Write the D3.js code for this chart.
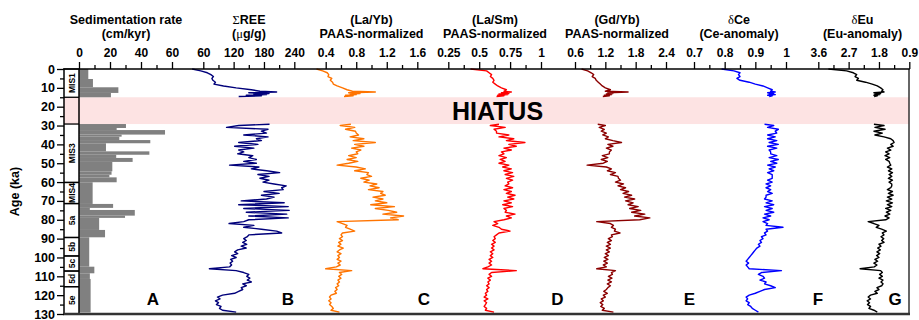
<!DOCTYPE html>
<html>
<head>
<meta charset="utf-8">
<script src="https://cdn.jsdelivr.net/npm/d3@7/dist/d3.min.js"></script>
<style>
body { margin: 0; background: #fff; }
svg text { font-family: "Liberation Sans", Arial, sans-serif; font-weight: bold; fill: #000; }
</style>
</head>
<body>
<div id="chart"></div>
<script>
// ---- data ----
// sedimentation rate steps (age top, age base, rate cm/kyr)
const sedTop  = [0, 5.3, 9.7, 12.7, 29.2, 31.3, 32.4, 34.8, 35.9, 37.7, 39.4, 43.7, 45.5, 47.2, 49.3, 54.3, 56.1, 57.5, 60.1, 71.6, 73.7, 74.8, 77.8, 79.0, 85.4, 89.3, 104.9, 108.4, 111.4];
const sedBase = [5.3, 9.7, 12.7, 15, 31.3, 32.4, 34.8, 35.9, 37.7, 39.4, 43.7, 45.5, 47.2, 49.3, 54.3, 56.1, 57.5, 60.1, 71.6, 73.7, 74.8, 77.8, 79.0, 85.4, 89.3, 104.9, 108.4, 111.4, 129.2];
const sedRate = [6, 9, 25.4, 20.6, 30.3, 24.3, 55.5, 27.5, 26, 46, 17.4, 45.4, 24, 34.6, 21.5, 21, 19.6, 24.3, 8.8, 22, 7, 36, 29.7, 13, 16.8, 6.6, 9.9, 7, 7.5];

// sample ages above the hiatus
const ageUpper = [0, 1, 2, 3, 4, 5, 6, 7, 8, 9, 10, 11, 11.8, 12.2, 12.6, 13, 13.3, 13.6, 13.9, 14.2, 14.6];
// sample ages below the hiatus
const ageLower = [29.3, 30, 31, 32, 33, 34, 35, 36, 37, 38,
  39, 40, 41, 42, 43, 44, 45, 46, 47, 48,
  49, 50, 51, 52, 53, 54, 55, 56, 57, 58,
  59, 60, 61, 62, 63, 64, 65, 66, 67, 68,
  69, 70, 71, 72, 73, 74, 75, 76, 77, 78,
  79, 80, 81, 82, 83, 84, 85, 86, 87, 88,
  89, 90, 91, 92, 93, 94, 95, 96, 97, 98,
  99, 100, 101, 102, 103, 104, 105, 106, 107, 108,
  109, 110, 111, 112, 113, 114, 115, 116, 117, 118,
  119, 120, 121, 122, 123, 124, 125, 126, 127, 128, 129];

const reeUpper = [38, 55, 68, 75, 80, 77, 79, 84, 81, 100, 125, 155, 172, 205, 150, 190, 160, 185, 145, 175, 130];
const reeLower = [191, 130, 106, 188, 175, 185, 140, 188, 165, 175,
  130, 168, 122, 160, 130, 140, 128, 158, 150, 165,
  140, 165, 112, 170, 155, 185, 211, 168, 190, 172,
  190, 178, 200, 224, 215, 218, 180, 210, 175, 200,
  185, 135, 220, 130, 228, 140, 230, 145, 225, 150,
  228, 150, 140, 111, 160, 140, 175, 205, 215, 150,
  147, 140, 145, 138, 146, 135, 145, 128, 122, 128,
  116, 125, 114, 118, 113, 116, 112, 72, 125, 140,
  150, 146, 152, 147, 155, 138, 145, 135, 138, 130,
  122, 98, 88, 93, 84, 90, 86, 95, 92, 98, 125];

const laYbUpper = [0.28, 0.36, 0.42, 0.44, 0.43, 0.48, 0.46, 0.49, 0.50, 0.55, 0.62, 0.68, 0.75, 1.05, 0.70, 0.85, 0.72, 0.80, 0.66, 0.76, 0.64];
const laYbLower = [0.73, 0.59, 0.78, 0.66, 0.79, 0.80, 0.83, 0.72, 0.90, 0.76,
  1.05, 0.78, 0.90, 0.74, 0.86, 0.80, 0.82, 0.70, 0.80, 0.68,
  0.82, 0.70, 0.55, 0.80, 0.92, 0.78, 0.96, 0.94, 1.00, 0.86,
  0.97, 0.90, 1.07, 0.98, 1.10, 0.96, 1.15, 1.12, 1.18, 1.02,
  1.15, 1.05, 1.20, 0.99, 1.30, 1.05, 1.22, 1.33, 1.15, 1.42,
  1.25, 1.35, 0.55, 0.62, 0.68, 0.66, 0.72, 0.78, 0.62, 0.60,
  0.62, 0.58, 0.62, 0.57, 0.60, 0.56, 0.63, 0.58, 0.55, 0.60,
  0.56, 0.58, 0.55, 0.60, 0.56, 0.59, 0.54, 0.40, 0.74, 0.58,
  0.61, 0.57, 0.60, 0.56, 0.58, 0.55, 0.57, 0.53, 0.55, 0.52,
  0.54, 0.47, 0.45, 0.47, 0.44, 0.47, 0.45, 0.48, 0.50, 0.47, 0.58];

const laSmUpper = [0.43, 0.56, 0.58, 0.60, 0.59, 0.61, 0.62, 0.61, 0.63, 0.65, 0.68, 0.72, 0.70, 0.76, 0.68, 0.74, 0.66, 0.73, 0.65, 0.70, 0.64];
const laSmLower = [0.66, 0.59, 0.71, 0.62, 0.64, 0.64, 0.74, 0.66, 0.78, 0.72,
  0.87, 0.74, 0.80, 0.70, 0.76, 0.68, 0.70, 0.66, 0.72, 0.67,
  0.71, 0.66, 0.74, 0.69, 0.76, 0.70, 0.77, 0.71, 0.78, 0.72,
  0.77, 0.73, 0.74, 0.71, 0.77, 0.70, 0.76, 0.72, 0.79, 0.73,
  0.78, 0.70, 0.76, 0.69, 0.77, 0.70, 0.72, 0.71, 0.79, 0.72,
  0.76, 0.70, 0.62, 0.65, 0.61, 0.66, 0.68, 0.75, 0.66, 0.64,
  0.62, 0.63, 0.61, 0.63, 0.60, 0.62, 0.60, 0.62, 0.59, 0.61,
  0.59, 0.61, 0.58, 0.60, 0.58, 0.60, 0.57, 0.53, 0.80, 0.60,
  0.58, 0.60, 0.57, 0.59, 0.57, 0.58, 0.56, 0.58, 0.56, 0.57,
  0.55, 0.56, 0.54, 0.57, 0.54, 0.56, 0.55, 0.54, 0.56, 0.55, 0.62];

const gdYbUpper = [0.73, 0.85, 0.92, 0.97, 0.94, 1.00, 1.02, 1.06, 1.10, 1.14, 1.20, 1.30, 1.20, 1.65, 1.25, 1.35, 1.22, 1.32, 1.18, 1.28, 1.15];
const gdYbLower = [1.05, 1.20, 1.08, 1.18, 1.12, 1.22, 1.15, 1.26, 1.20, 1.35,
  1.52, 1.25, 1.35, 1.22, 1.32, 1.28, 1.28, 1.14, 1.25, 1.12,
  1.24, 1.16, 0.84, 1.22, 1.32, 1.24, 1.40, 1.30, 1.45, 1.46,
  1.50, 1.40, 1.56, 1.45, 1.60, 1.50, 1.66, 1.55, 1.72, 1.58,
  1.78, 1.60, 1.75, 1.65, 1.85, 1.68, 1.90, 1.72, 1.98, 1.78,
  2.08, 1.88, 1.03, 1.30, 1.36, 1.32, 1.40, 1.38, 1.49, 1.32,
  1.34, 1.26, 1.32, 1.24, 1.30, 1.22, 1.30, 1.22, 1.28, 1.20,
  1.26, 1.18, 1.25, 1.17, 1.24, 1.16, 1.22, 1.03, 1.40, 1.32,
  1.34, 1.26, 1.33, 1.25, 1.32, 1.24, 1.30, 1.25, 1.22, 1.17,
  1.24, 1.16, 1.20, 1.12, 1.16, 1.10, 1.15, 1.11, 1.18, 1.14, 1.36];

const ceUpper = [0.79, 0.83, 0.85, 0.845, 0.85, 0.84, 0.85, 0.88, 0.90, 0.925, 0.94, 0.955, 0.95, 0.965, 0.94, 0.96, 0.945, 0.965, 0.94, 0.955, 0.945];
const ceLower = [0.93, 0.96, 0.94, 0.975, 0.965, 0.97, 0.94, 0.965, 0.94, 0.97,
  0.945, 0.975, 0.94, 0.97, 0.945, 0.95, 0.95, 0.97, 0.945, 0.975,
  0.95, 0.97, 0.94, 0.965, 0.945, 0.96, 0.94, 0.955, 0.955, 0.955,
  0.94, 0.955, 0.935, 0.95, 0.935, 0.95, 0.94, 0.955, 0.935, 0.935,
  0.93, 0.955, 0.935, 0.96, 0.93, 0.955, 0.935, 0.96, 0.93, 0.95,
  0.925, 0.945, 0.925, 0.94, 0.935, 0.99, 0.935, 0.94, 0.93, 0.935,
  0.92, 0.925, 0.915, 0.92, 0.91, 0.915, 0.905, 0.90, 0.895, 0.89,
  0.885, 0.88, 0.875, 0.87, 0.878, 0.87, 0.875, 0.88, 0.985, 0.92,
  0.91, 0.925, 0.93, 0.915, 0.935, 0.93, 0.95, 0.965, 0.93, 0.915,
  0.90, 0.88, 0.87, 0.875, 0.87, 0.88, 0.875, 0.885, 0.89, 0.90, 0.91];

const euUpper = [3.30, 2.76, 2.56, 2.46, 2.51, 2.41, 2.46, 2.20, 2.00, 1.85, 1.75, 1.68, 1.72, 1.65, 1.95, 1.75, 1.92, 1.78, 1.95, 1.85, 1.95];
const euLower = [1.95, 1.65, 1.92, 1.62, 1.95, 1.70, 1.92, 1.65, 1.45, 1.38,
  1.35, 1.45, 1.38, 1.55, 1.45, 1.60, 1.50, 1.62, 1.48, 1.60,
  1.50, 1.48, 1.45, 1.55, 1.42, 1.52, 1.40, 1.50, 1.42, 1.52,
  1.40, 1.50, 1.42, 1.42, 1.45, 1.55, 1.40, 1.52, 1.38, 1.55,
  1.42, 1.58, 1.40, 1.55, 1.42, 1.60, 1.45, 1.58, 1.48, 1.62,
  1.50, 1.60, 2.12, 1.95, 1.80, 1.88, 1.72, 1.58, 1.70, 1.65,
  1.74, 1.66, 1.72, 1.65, 1.80, 1.74, 1.84, 1.76, 1.86, 1.78,
  1.87, 1.80, 1.92, 1.84, 1.95, 1.86, 1.94, 2.36, 1.75, 1.70,
  1.78, 1.70, 1.80, 1.68, 1.74, 1.68, 1.72, 1.86, 1.80, 1.92,
  1.85, 2.05, 2.12, 2.05, 2.15, 2.08, 2.14, 2.05, 2.10, 1.95, 1.85];

// hiatus and marine isotope stages
const hiatus = [15, 29.2];
const misNames = ["MIS1", "MIS3", "MIS4", "5a", "5b", "5c", "5d", "5e"];
const misTop   = [0, 29.2, 60.2, 71.4, 89.4, 99.2, 107.2, 115.5];
const misBase  = [15, 60.2, 71.4, 89.4, 99.2, 107.2, 115.5, 130];

// tick labels
const ageTicks = [0, 10, 20, 30, 40, 50, 60, 70, 80, 90, 100, 110, 120, 130];
const ageMinor = [5, 15, 25, 35, 45, 55, 65, 75, 85, 95, 105, 115, 125];
const sedTicks = [0, 20, 40, 60], sedMinor = [10, 30, 50];
const reeTicks = [60, 120, 180, 240], reeMinor = [90, 150, 210];
const laYbTicks = [0.4, 0.8, 1.2, 1.6], laYbMinor = [0.6, 1.0, 1.4];
const laSmTicks = [0.25, 0.5, 0.75, 1], laSmMinor = [0.375, 0.625, 0.875];
const gdYbTicks = [0.6, 1.2, 1.8, 2.4], gdYbMinor = [0.9, 1.5, 2.1];
const ceTicks = [0.7, 0.8, 0.9, 1], ceMinor = [0.75, 0.85, 0.95];
const euTicks = [3.6, 2.7, 1.8, 0.9], euMinor = [3.15, 2.25, 1.35];

// ---- layout ----
const width = 919, height = 320;
const plotTop = 69, plotBottom = 314;
const misLeft = 64, misRight = 79, plotRight = 909;

const panels = [
  { id: "A", title: ["Sedimentation rate", "(cm/kyr)"], domain: [0, 60], range: [79, 172], ticks: sedTicks, minor: sedMinor, titleX: 126, letterX: 153 },
  { id: "B", title: ["\u03a3REE", "(\u03bcg/g)"], domain: [60, 240], range: [203.3, 294.3], ticks: reeTicks, minor: reeMinor, titleX: 249, letterX: 288, upper: reeUpper, lower: reeLower, color: "#00007a" },
  { id: "C", title: ["(La/Yb)", "PAAS-normalized"], domain: [0.4, 1.6], range: [325.7, 417.3], ticks: laYbTicks, minor: laYbMinor, titleX: 371.5, letterX: 424, upper: laYbUpper, lower: laYbLower, color: "#ff7400" },
  { id: "D", title: ["(La/Sm)", "PAAS-normalized"], domain: [0.25, 1], range: [448.3, 541], ticks: laSmTicks, minor: laSmMinor, titleX: 495, letterX: 557.5, upper: laSmUpper, lower: laSmLower, color: "#ff0000" },
  { id: "E", title: ["(Gd/Yb)", "PAAS-normalized"], domain: [0.6, 2.4], range: [575, 666], ticks: gdYbTicks, minor: gdYbMinor, titleX: 617, letterX: 689.5, upper: gdYbUpper, lower: gdYbLower, color: "#8b0000" },
  { id: "F", title: ["\u03b4Ce", "(Ce-anomaly)"], domain: [0.7, 1], range: [694, 786], ticks: ceTicks, minor: ceMinor, titleX: 739, letterX: 818, upper: ceUpper, lower: ceLower, color: "#0000ff" },
  { id: "G", title: ["\u03b4Eu", "(Eu-anomaly)"], domain: [3.6, 0.9], range: [818.3, 909.3], ticks: euTicks, minor: euMinor, titleX: 862.5, letterX: 895, upper: euUpper, lower: euLower, color: "#000000" }
];

const svg = d3.select("#chart")
  .append("svg")
  .attr("width", width)
  .attr("height", height);

const y = d3.scaleLinear().domain([0, 130]).range([plotTop, plotBottom]);
panels.forEach(p => { p.x = d3.scaleLinear().domain(p.domain).range(p.range); });

// greek letters drawn in a serif face, like the original symbol font
function richText(sel, str) {
  str.split(/([\u0370-\u03ff])/).filter(s => s.length).forEach(part => {
    const t = sel.append("tspan").text(part);
    if (/[\u0370-\u03ff]/.test(part)) {
      t.style("font-family", "'Liberation Serif', serif").style("font-weight", "normal");
    }
  });
}

// tidy an axis group: drop the domain path, style ticks and labels
function styleAxis(g, fontSize) {
  g.selectAll(".domain").remove();
  g.selectAll("line").attr("stroke", "#000").attr("stroke-width", 1.3);
  g.selectAll("text")
    .attr("fill", "#000")
    .style("font-size", fontSize)
    .style("font-family", "'Liberation Sans', Arial, sans-serif")
    .style("font-weight", "bold");
}

// hiatus band
svg.append("rect")
  .attr("x", misLeft)
  .attr("y", y(hiatus[0]))
  .attr("width", plotRight - misLeft)
  .attr("height", y(hiatus[1]) - y(hiatus[0]))
  .attr("fill", "#fde3e3");

// sedimentation rate bars
const xSed = panels[0].x;
svg.append("g")
  .selectAll("rect")
  .data(d3.range(sedRate.length))
  .join("rect")
  .attr("x", xSed(0))
  .attr("y", i => y(sedTop[i]))
  .attr("width", i => xSed(sedRate[i]) - xSed(0))
  .attr("height", i => y(sedBase[i]) - y(sedTop[i]))
  .attr("fill", "#808080");

// geochemistry profiles, one path above and one below the hiatus
panels.filter(p => p.upper).forEach(p => {
  const line = d3.line()
    .x(d => p.x(d[1]))
    .y(d => y(d[0]));
  [d3.zip(ageUpper, p.upper), d3.zip(ageLower, p.lower)].forEach(seg => {
    svg.append("path")
      .datum(seg)
      .attr("d", line)
      .attr("fill", "none")
      .attr("stroke", p.color)
      .attr("stroke-width", 1.4)
      .attr("stroke-linejoin", "round");
  });
});

// MIS column
const mis = svg.append("g");
mis.selectAll("line")
  .data(misTop.concat(misBase))
  .join("line")
  .attr("x1", misLeft).attr("x2", misRight)
  .attr("y1", d => y(d)).attr("y2", d => y(d))
  .attr("stroke", "#000").attr("stroke-width", 1.3);
mis.selectAll("text")
  .data(misNames)
  .join("text")
  .attr("transform", (d, i) => `translate(${(misLeft + misRight) / 2 + 3},${y((misTop[i] + misBase[i]) / 2)}) rotate(-90)`)
  .attr("text-anchor", "middle")
  .style("font-size", "8.5px")
  .text(d => d);
[misLeft, misRight].forEach(xx => {
  svg.append("line")
    .attr("x1", xx).attr("x2", xx)
    .attr("y1", plotTop).attr("y2", plotBottom)
    .attr("stroke", "#000").attr("stroke-width", 1.5);
});

// frame: right and bottom
svg.append("line")
  .attr("x1", plotRight).attr("x2", plotRight)
  .attr("y1", plotTop).attr("y2", plotBottom)
  .attr("stroke", "#333").attr("stroke-width", 1.5);
svg.append("line")
  .attr("x1", misLeft - 1).attr("x2", plotRight + 1)
  .attr("y1", plotBottom).attr("y2", plotBottom)
  .attr("stroke", "#333").attr("stroke-width", 2.5);

// left age axis (major and minor ticks in separate groups)
svg.append("g")
  .attr("transform", `translate(${misLeft},0)`)
  .call(d3.axisLeft(y).tickValues(ageTicks).tickSize(7).tickPadding(2).tickFormat(d => d))
  .call(g => styleAxis(g, "12.5px"));
svg.append("g")
  .attr("transform", `translate(${misLeft},0)`)
  .call(d3.axisLeft(y).tickValues(ageMinor).tickSize(4).tickFormat(""))
  .call(g => styleAxis(g, "12.5px"));

svg.append("text")
  .attr("transform", `translate(19,${(plotTop + plotBottom) / 2}) rotate(-90)`)
  .attr("text-anchor", "middle")
  .style("font-size", "12.5px")
  .text("Age (ka)");

// top axis line shared by all panels
svg.append("line")
  .attr("x1", misLeft - 1).attr("x2", plotRight + 0.75)
  .attr("y1", plotTop).attr("y2", plotTop)
  .attr("stroke", "#000").attr("stroke-width", 1.5);

// panel axes, titles and letters
panels.forEach(p => {
  svg.append("g")
    .attr("transform", `translate(0,${plotTop})`)
    .call(d3.axisTop(p.x).tickValues(p.ticks).tickSize(7).tickPadding(5).tickFormat(d => String(d)))
    .call(g => styleAxis(g, "12px"));
  svg.append("g")
    .attr("transform", `translate(0,${plotTop})`)
    .call(d3.axisTop(p.x).tickValues(p.minor).tickSize(4).tickFormat(""))
    .call(g => styleAxis(g, "12px"));

  p.title.forEach((t, i) => {
    const txt = svg.append("text")
      .attr("x", p.titleX)
      .attr("y", 24 + i * 13.5)
      .attr("text-anchor", "middle")
      .style("font-size", "12.5px");
    richText(txt, t);
  });

  svg.append("text")
    .attr("x", p.letterX)
    .attr("y", 305)
    .attr("text-anchor", "middle")
    .style("font-size", "17px")
    .text(p.id);
});

// hiatus label
svg.append("text")
  .attr("x", 497.5)
  .attr("y", 120)
  .attr("text-anchor", "middle")
  .style("font-size", "25px")
  .text("HIATUS");
</script>
</body>
</html>
